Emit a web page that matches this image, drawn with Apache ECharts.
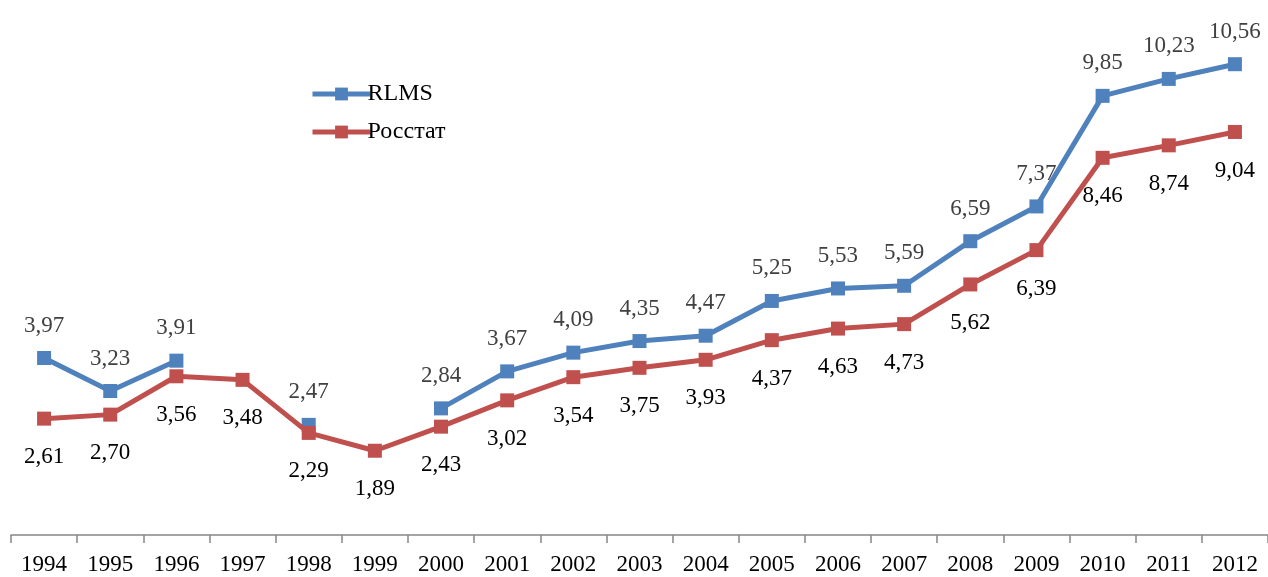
<!DOCTYPE html>
<html><head><meta charset="utf-8">
<script src="https://cdn.jsdelivr.net/npm/echarts@6/dist/echarts.min.js"></script>
<style>html,body{margin:0;padding:0;background:#fff}#c{width:1268px;height:577px}</style>
</head><body><div id="c"></div>
<script>
const years = ['1994','1995','1996','1997','1998','1999','2000','2001','2002','2003','2004','2005','2006','2007','2008','2009','2010','2011','2012'];
const rlms = [3.97,3.23,3.91,null,2.47,null,2.84,3.67,4.09,4.35,4.47,5.25,5.53,5.59,6.59,7.37,9.85,10.23,10.56];
const rosstat = [2.61,2.70,3.56,3.48,2.29,1.89,2.43,3.02,3.54,3.75,3.93,4.37,4.63,4.73,5.62,6.39,8.46,8.74,9.04];
const font = 'Liberation Serif';
const fmt = p => p.value == null ? '' : p.value.toFixed(2).replace('.', ',');
const chart = echarts.init(document.getElementById('c'), null, {renderer:'canvas'});
chart.setOption({
  animation:false,
  backgroundColor:'#fff',
  grid:{left:11,right:-1,top:0,bottom:42,containLabel:false},
  legend:{orient:'vertical',left:305,top:77,itemWidth:58,itemHeight:16,itemGap:14,
    lineStyle:{width:5},
    textStyle:{fontFamily:font,fontSize:24,color:'#000',padding:[0,0,0,-8]},
    data:['RLMS','Росстат']},
  xAxis:{type:'category',data:years,boundaryGap:true,
    axisLine:{lineStyle:{color:'#868686',width:1.5}},
    axisTick:{show:true,interval:0,length:8,lineStyle:{color:'#868686',width:1.5}},
    axisLabel:{fontFamily:font,fontSize:23,color:'#000',margin:18}},
  yAxis:{type:'value',min:0,max:12,show:false,splitLine:{show:false}},
  series:[
    {name:'RLMS',type:'line',data:rlms,connectNulls:false,symbol:'rect',symbolSize:14,
     itemStyle:{color:'#4f81bd'},lineStyle:{color:'#4f81bd',width:5},
     label:{show:true,position:'top',distance:14,formatter:fmt,fontFamily:font,fontSize:23,color:'#404040'},z:2},
    {name:'Росстат',type:'line',data:rosstat,symbol:'rect',symbolSize:14,
     itemStyle:{color:'#c0504d'},lineStyle:{color:'#c0504d',width:5},
     label:{show:true,position:'bottom',distance:20,formatter:fmt,fontFamily:font,fontSize:23,color:'#000'},z:3}
  ]
});
</script></body></html>
